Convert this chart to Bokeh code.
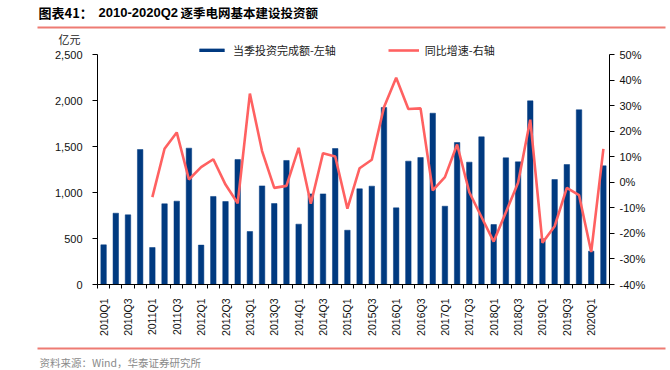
from math import pi
from bokeh.plotting import figure
from bokeh.models import (Range1d, LinearAxis, FixedTicker, NumeralTickFormatter,
                          PrintfTickFormatter, Legend, LegendItem, Label,
                          ColumnDataSource)
from bokeh.embed import file_html
from bokeh.resources import INLINE

quarters = ["2010Q1", "2010Q2", "2010Q3", "2010Q4",
            "2011Q1", "2011Q2", "2011Q3", "2011Q4",
            "2012Q1", "2012Q2", "2012Q3", "2012Q4",
            "2013Q1", "2013Q2", "2013Q3", "2013Q4",
            "2014Q1", "2014Q2", "2014Q3", "2014Q4",
            "2015Q1", "2015Q2", "2015Q3", "2015Q4",
            "2016Q1", "2016Q2", "2016Q3", "2016Q4",
            "2017Q1", "2017Q2", "2017Q3", "2017Q4",
            "2018Q1", "2018Q2", "2018Q3", "2018Q4",
            "2019Q1", "2019Q2", "2019Q3", "2019Q4",
            "2020Q1", "2020Q2"]

# 当季投资完成额 (亿元)
invest = [431, 775, 757, 1467,
          402, 877, 906, 1482,
          428, 957, 902, 1359,
          576, 1072, 880, 1348,
          656, 985, 985, 1478,
          590, 1040, 1069, 1924,
          833, 1341, 1380, 1862,
          851, 1543, 1330, 1605,
          652, 1377, 1333, 1996,
          496, 1141, 1304, 1899,
          362, 1290]

# 同比增速 (%), from 2011Q1
growth_quarters = quarters[4:]
growth = [-5.8, 13.1, 19.5, 1.1,
          5.9, 9.0, -0.9, -8.2,
          34.7, 12.2, -2.2, -1.4,
          13.5, -8.4, 11.4, 10.1,
          -10.3, 5.5, 8.8, 29.4,
          40.9, 28.7, 28.9, -3.2,
          2.0, 14.8, -3.9, -13.6,
          -23.2, -11.7, -0.2, 24.5,
          -23.7, -17.2, -2.2, -5.0,
          -27.3, 13.1]

left_ticks = [0, 500, 1000, 1500, 2000, 2500]
right_ticks = [-40, -30, -20, -10, 0, 10, 20, 30, 40, 50]
label_quarters = quarters[::2]

title_a = "图表41："
title_b = "2010-2020Q2"
title_c = "逐季电网基本建设投资额"
unit_text = "亿元"
bar_name = "当季投资完成额-左轴"
line_name = "同比增速-右轴"
source_text = "资料来源：Wind，华泰证券研究所"

BAR_COLOR = "#003A80"
LINE_COLOR = "#FF6161"
RULE_COLOR = "#EE7B73"
CJK = "Noto Sans CJK SC"
AX_FONT = "Liberation Sans"

# ---- page geometry (pixels) ----
W, H = 670, 370
PX_LEFT, PX_RIGHT = 97, 609      # plot area left / right
PX_ZERO, PX_TOP = 284, 54        # y of 0 and of the top tick

n = len(quarters)
cat_px = (PX_RIGHT - PX_LEFT) / n
x_start = -0.5 - PX_LEFT / cat_px
x_end = x_start + W / cat_px

l_lo, l_hi = left_ticks[0], left_ticks[-1]
l_per_px = (l_hi - l_lo) / (PX_ZERO - PX_TOP)
y_start = l_lo - (H - PX_ZERO) * l_per_px
y_end = l_hi + PX_TOP * l_per_px

r_lo, r_hi = right_ticks[0], right_ticks[-1]
r_per_px = (r_hi - r_lo) / (PX_ZERO - PX_TOP)
r_start = r_lo - (H - PX_ZERO) * r_per_px
r_end = r_hi + PX_TOP * r_per_px


def sy(page_y):
    """page y (from top) -> screen y (from bottom of frame)"""
    return H - page_y


def data_x(page_x):
    return x_start + page_x / cat_px


def data_y(page_y):
    return y_start + (H - page_y) * l_per_px


pos = {q: i for i, q in enumerate(quarters)}
bar_src = ColumnDataSource(dict(x=[pos[q] for q in quarters], top=invest))
line_src = ColumnDataSource(dict(x=[pos[q] for q in growth_quarters], y=growth))

p = figure(width=W, height=H, output_backend="svg", toolbar_location=None,
           x_range=Range1d(x_start, x_end), y_range=Range1d(y_start, y_end),
           x_axis_location=None, y_axis_location=None, min_border=0)
p.outline_line_color = None
p.grid.visible = False
p.background_fill_color = "white"
p.border_fill_color = "white"
p.extra_y_ranges = {"pct": Range1d(r_start, r_end)}

bars = p.vbar(x="x", top="top", width=0.45, source=bar_src,
              fill_color=BAR_COLOR, line_color=BAR_COLOR, line_width=0.5)
line = p.line(x="x", y="y", source=line_src, y_range_name="pct",
              line_color=LINE_COLOR, line_width=2.6)

# ---- decorative rules under the title and above the source note ----
# (tick-less axis lines at fixed positions; they take no panel space)
for ry in (27, 348):
    rule = LinearAxis(ticker=FixedTicker(ticks=[]), fixed_location=data_y(ry),
                      bounds=(data_x(37), data_x(665)))
    rule.axis_line_color = RULE_COLOR
    rule.axis_line_width = 2
    rule.major_tick_line_color = None
    rule.minor_tick_line_color = None
    rule.major_label_text_alpha = 0
    p.add_layout(rule, "below")

# ---- axes (drawn at fixed locations, no panel space) ----
ya = LinearAxis(ticker=FixedTicker(ticks=left_ticks),
                formatter=NumeralTickFormatter(format="0,0"),
                fixed_location=-0.5, bounds=(l_lo, l_hi))
p.add_layout(ya, "left")

ra = LinearAxis(y_range_name="pct", ticker=FixedTicker(ticks=right_ticks),
                formatter=PrintfTickFormatter(format="%d%%"),
                fixed_location=n - 0.5, bounds=(r_lo, r_hi))
p.add_layout(ra, "right")

for ax in (ya, ra):
    ax.axis_line_color = "black"
    ax.major_tick_line_color = "black"
    ax.major_tick_out = 5
    ax.major_tick_in = 0
    ax.minor_tick_line_color = None
    ax.major_label_text_font = AX_FONT
    ax.major_label_text_font_size = "11px"
    ax.major_label_text_color = "#111111"
ya.major_label_standoff = 10
ra.major_label_standoff = 5

xa = LinearAxis(ticker=FixedTicker(ticks=[pos[q] for q in label_quarters],
                                   minor_ticks=[i - 0.5 for i in range(n + 1)]),
                fixed_location=l_lo, bounds=(-0.5, n - 0.5))
xa.major_label_overrides = {pos[q]: q for q in label_quarters}
xa.major_label_orientation = pi / 2
xa.axis_line_color = "black"
xa.major_tick_line_color = None
xa.major_tick_out = 0
xa.major_tick_in = 0
xa.minor_tick_line_color = "black"
xa.minor_tick_out = 4
xa.minor_tick_in = 0
xa.major_label_standoff = 10
xa.major_label_text_font = AX_FONT
xa.major_label_text_font_size = "10.5px"
xa.major_label_text_color = "#111111"
p.add_layout(xa, "below")

# ---- legend ----
legend = Legend(items=[LegendItem(label=bar_name, renderers=[bars]),
                       LegendItem(label=line_name, renderers=[line])],
                location=(196, sy(58)), orientation="horizontal",
                glyph_width=31, glyph_height=4, label_height=12,
                label_standoff=6, spacing=52, padding=0, margin=0,
                border_line_alpha=0, background_fill_alpha=0,
                label_text_font=CJK, label_text_font_size="11px",
                label_text_color="#222222")
p.add_layout(legend)

# ---- header / footer texts ----
def add_label(x, page_y, text, font, size, color="black", bold=False):
    p.add_layout(Label(x=x, y=sy(page_y), x_units="screen", y_units="screen",
                       text=text, text_font=font, text_font_size=size,
                       text_font_style="bold" if bold else "normal",
                       text_baseline="middle", text_color=color))

add_label(38, 12, title_a, CJK, "13px", bold=True)
add_label(98, 12, title_b, AX_FONT, "13px", bold=True)
add_label(180, 12, title_c, CJK, "12.5px", bold=True)
add_label(58, 38, unit_text, CJK, "11px", color="#222222")
add_label(39, 362, source_text, CJK, "10.5px", color="#8a8a8a")

open("out.html", "w").write(file_html(p, INLINE))
